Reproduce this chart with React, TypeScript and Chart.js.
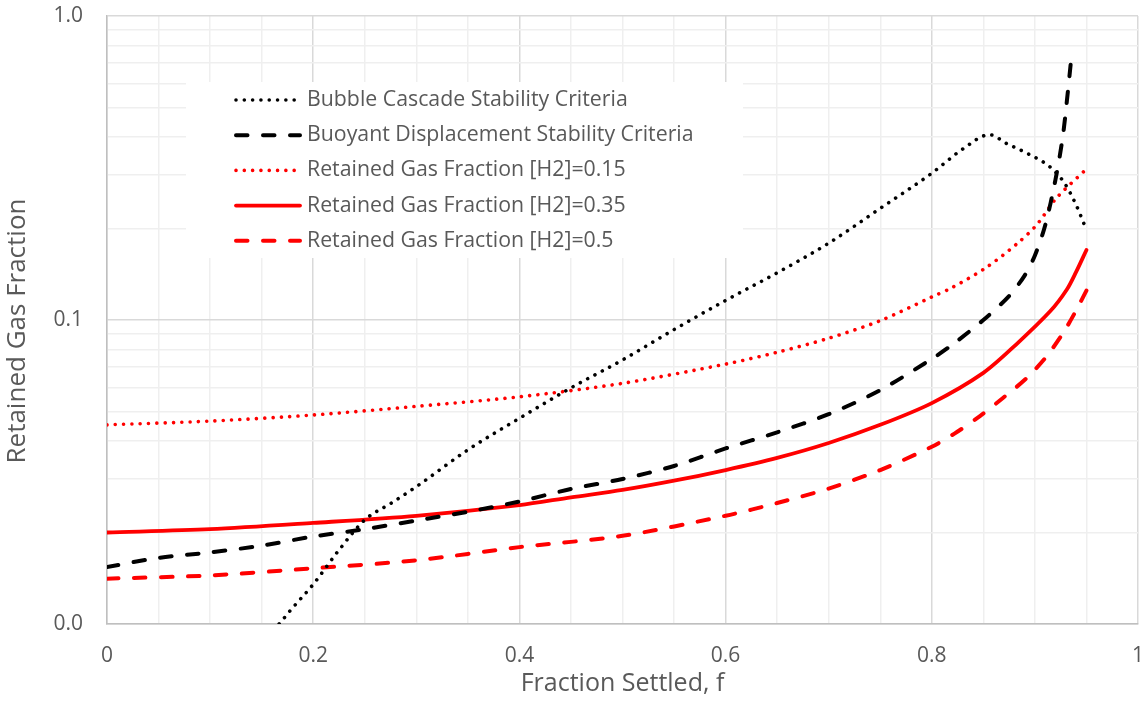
import { useEffect, useRef } from "react";
import { Chart, registerables } from "chart.js";

Chart.register(...registerables);

const X_TICKS = [0, 0.05, 0.1, 0.15, 0.2, 0.25, 0.3, 0.35, 0.4, 0.45, 0.5, 0.55, 0.6, 0.65, 0.7, 0.75, 0.8, 0.85, 0.9, 0.95, 1];
const X_MAJOR = [0, 0.2, 0.4, 0.6, 0.8, 1];
const X_MAJOR_LABELS = ["0", "0.2", "0.4", "0.6", "0.8", "1"];
const Y_TICKS = [0.01, 0.02, 0.03, 0.04, 0.05, 0.06, 0.07, 0.08, 0.09, 0.1, 0.2, 0.3, 0.4, 0.5, 0.6, 0.7, 0.8, 0.9, 1];
const Y_MAJOR = [0.01, 0.1, 1];
const Y_MAJOR_LABELS = ["0.0", "0.1", "1.0"];

const X_TITLE = "Fraction Settled, f";
const Y_TITLE = "Retained Gas Fraction";

const SERIES_NAMES = [
  "Bubble Cascade Stability Criteria",
  "Buoyant Displacement Stability Criteria",
  "Retained Gas Fraction [H2]=0.15",
  "Retained Gas Fraction [H2]=0.35",
  "Retained Gas Fraction [H2]=0.5",
];

const BUBBLE_X = [0.167, 0.18, 0.2, 0.225, 0.25, 0.275, 0.3, 0.35, 0.4, 0.45, 0.5, 0.55, 0.6, 0.65, 0.7, 0.75, 0.8, 0.83, 0.856, 0.873, 0.892, 0.915, 0.929, 0.94, 0.95];
const BUBBLE_Y = [0.01, 0.0113, 0.0135, 0.0175, 0.022, 0.0249, 0.0283, 0.0374, 0.0475, 0.0598, 0.0739, 0.093, 0.116, 0.143, 0.179, 0.233, 0.304, 0.365, 0.407, 0.38, 0.354, 0.318, 0.281, 0.239, 0.198];

const BUOYANT_X = [0, 0.05, 0.1, 0.15, 0.2, 0.25, 0.3, 0.35, 0.4, 0.45, 0.5, 0.55, 0.6, 0.65, 0.7, 0.75, 0.8, 0.82, 0.85, 0.875, 0.89, 0.9, 0.91, 0.92, 0.927, 0.931, 0.9357];
const BUOYANT_Y = [0.0154, 0.0165, 0.0172, 0.0181, 0.0194, 0.0205, 0.0219, 0.0234, 0.0253, 0.0278, 0.03, 0.0331, 0.0378, 0.0427, 0.049, 0.0588, 0.0745, 0.083, 0.1, 0.12, 0.14, 0.163, 0.205, 0.29, 0.4, 0.525, 0.75];

const H2_015_X = [0, 0.1, 0.2, 0.3, 0.4, 0.5, 0.6, 0.65, 0.7, 0.75, 0.8, 0.82, 0.853, 0.882, 0.902, 0.921, 0.95];
const H2_015_Y = [0.0452, 0.0465, 0.0487, 0.052, 0.0559, 0.0619, 0.0716, 0.0783, 0.0871, 0.0995, 0.119, 0.128, 0.149, 0.1775, 0.206, 0.252, 0.314];

const H2_035_X = [0, 0.1, 0.2, 0.3, 0.4, 0.45, 0.5, 0.55, 0.6, 0.65, 0.7, 0.75, 0.8, 0.85, 0.882, 0.915, 0.931, 0.94, 0.95];
const H2_035_Y = [0.02, 0.0205, 0.0215, 0.0227, 0.0246, 0.0261, 0.0276, 0.0296, 0.0321, 0.0352, 0.0394, 0.0452, 0.0533, 0.067, 0.0832, 0.107, 0.126, 0.144, 0.17];

const H2_050_X = [0, 0.1, 0.2, 0.3, 0.4, 0.5, 0.6, 0.65, 0.7, 0.75, 0.8, 0.822, 0.847, 0.869, 0.892, 0.911, 0.927, 0.939, 0.95];
const H2_050_Y = [0.0141, 0.01445, 0.01525, 0.0162, 0.0179, 0.0195, 0.0227, 0.025, 0.0279, 0.0321, 0.0383, 0.0423, 0.0484, 0.0554, 0.0644, 0.0757, 0.0902, 0.106, 0.125];

const FONT = "'Open Sans', 'Noto Sans', sans-serif";
const TEXT_COLOR = "#595959";

const pts = (xs: number[], ys: number[]) => xs.map((x, i) => ({ x, y: ys[i] }));
const isIn = (arr: number[], v: number) => arr.some((a) => Math.abs(a - v) < 1e-9);

const DOT = [0.01, 8.3];
const DASH = [11.5, 15.5];

const decorPlugin = {
  id: "decor",
  afterDraw(chart: any) {
    const ctx = chart.ctx as CanvasRenderingContext2D;
    ctx.save();
    // legend box
    ctx.fillStyle = "#ffffff";
    ctx.fillRect(186, 82, 557, 176);
    chart.data.datasets.forEach((ds: any, i: number) => {
      const y = 100 + i * 35.2;
      ctx.strokeStyle = ds.borderColor;
      ctx.lineWidth = ds.borderWidth;
      ctx.lineCap = ds.borderCapStyle || "butt";
      ctx.setLineDash(ds.borderDash || []);
      ctx.beginPath();
      ctx.moveTo(236, y);
      ctx.lineTo(300, y);
      ctx.stroke();
      ctx.setLineDash([]);
      ctx.fillStyle = TEXT_COLOR;
      ctx.font = `21.3px ${FONT}`;
      ctx.textBaseline = "middle";
      ctx.textAlign = "left";
      ctx.fillText(ds.label, 307, y);
    });
    // y axis title
    ctx.translate(18, 331);
    ctx.rotate(-Math.PI / 2);
    ctx.fillStyle = TEXT_COLOR;
    ctx.font = `26px ${FONT}`;
    ctx.textAlign = "center";
    ctx.textBaseline = "middle";
    ctx.fillText(Y_TITLE, 0, 0);
    ctx.restore();
  },
};

export default function App() {
  const ref = useRef<HTMLCanvasElement | null>(null);
  useEffect(() => {
    if (!ref.current) return;
    const chart = new Chart(ref.current, {
      type: "line",
      data: {
        datasets: [
          {
            label: SERIES_NAMES[0],
            data: pts(BUBBLE_X, BUBBLE_Y),
            borderColor: "#000000",
            borderWidth: 3.6,
            borderDash: DOT,
            borderCapStyle: "round",
            cubicInterpolationMode: "monotone",
          },
          {
            label: SERIES_NAMES[1],
            data: pts(BUOYANT_X, BUOYANT_Y),
            borderColor: "#000000",
            borderWidth: 4,
            borderDash: DASH,
            borderCapStyle: "round",
            tension: 0.3,
          },
          {
            label: SERIES_NAMES[2],
            data: pts(H2_015_X, H2_015_Y),
            borderColor: "#ff0000",
            borderWidth: 3.6,
            borderDash: DOT,
            borderCapStyle: "round",
            tension: 0.3,
          },
          {
            label: SERIES_NAMES[3],
            data: pts(H2_035_X, H2_035_Y),
            borderColor: "#ff0000",
            borderWidth: 3.8,
            borderCapStyle: "round",
            tension: 0.3,
          },
          {
            label: SERIES_NAMES[4],
            data: pts(H2_050_X, H2_050_Y),
            borderColor: "#ff0000",
            borderWidth: 4,
            borderDash: DASH,
            borderCapStyle: "round",
            tension: 0.3,
          },
        ] as any,
      },
      options: {
        animation: false,
        responsive: false,
        elements: {
          point: { radius: 0, hoverRadius: 0 },
          line: { fill: false },
        },
        layout: { padding: { left: 0, top: 16, right: 10, bottom: 0 } },
        plugins: {
          legend: { display: false },
          tooltip: { enabled: false },
        },
        scales: {
          x: {
            type: "linear",
            min: 0,
            max: 1,
            afterBuildTicks: (scale: any) => {
              scale.ticks = X_TICKS.map((v) => ({ value: v }));
            },
            afterFit: (scale: any) => {
              scale.height = 88;
              scale.paddingLeft = 0;
              scale.paddingRight = 0;
            },
            ticks: {
              autoSkip: false,
              maxRotation: 0,
              padding: 19,
              color: TEXT_COLOR,
              font: { family: FONT, size: 21 },
              callback: (v: any) => {
                const idx = X_MAJOR.findIndex((m) => Math.abs(m - v) < 1e-9);
                return idx >= 0 ? X_MAJOR_LABELS[idx] : "";
              },
            },
            grid: {
              drawTicks: false,
              color: (c: any) => (isIn(X_MAJOR, c.tick.value) ? "#d9d9d9" : "#efefef"),
              lineWidth: 1.5,
            },
            border: { display: true, color: "#bfbfbf", width: 1.5 },
            title: {
              display: true,
              text: X_TITLE,
              color: TEXT_COLOR,
              font: { family: FONT, size: 25 },
              padding: { top: 0, bottom: 13 },
            },
          },
          y: {
            type: "logarithmic",
            min: 0.01,
            max: 1,
            afterBuildTicks: (scale: any) => {
              scale.ticks = Y_TICKS.map((v) => ({ value: v }));
            },
            afterFit: (scale: any) => {
              scale.width = 107;
              scale.paddingTop = 0;
              scale.paddingBottom = 0;
            },
            ticks: {
              autoSkip: false,
              padding: 24,
              color: TEXT_COLOR,
              font: { family: FONT, size: 21 },
              callback: (v: any) => {
                const idx = Y_MAJOR.findIndex((m) => Math.abs(m - v) < 1e-9);
                return idx >= 0 ? Y_MAJOR_LABELS[idx] : "";
              },
            },
            grid: {
              drawTicks: false,
              color: (c: any) => (isIn(Y_MAJOR, c.tick.value) ? "#d9d9d9" : "#efefef"),
              lineWidth: 1.5,
            },
            border: { display: true, color: "#bfbfbf", width: 1.5 },
            title: { display: false },
          },
        },
      },
      plugins: [decorPlugin],
    });
    return () => chart.destroy();
  }, []);
  return (
    <div style={{ position: "fixed", left: 0, top: 0, width: 1148, height: 712, background: "#fff" }}>
      <canvas ref={ref} width={1148} height={712} style={{ display: "block" }} />
    </div>
  );
}
